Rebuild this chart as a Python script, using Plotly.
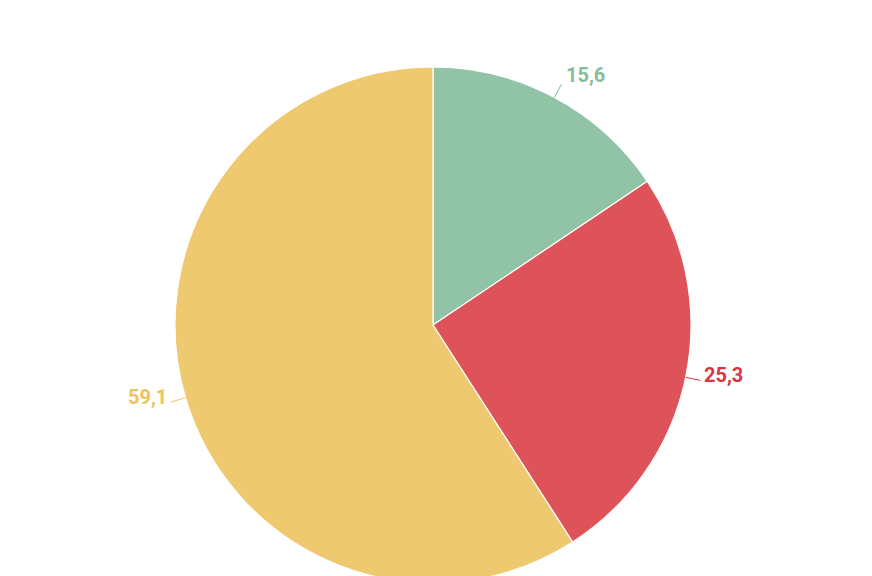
import math
import plotly.graph_objects as go

categories = ["A", "B", "C"]
values = [15.6, 25.3, 59.1]
value_labels = ["15,6", "25,3", "59,1"]
slice_colors = ["#91c3a6", "#dd5359", "#eec96f"]
text_colors = ["#86bd9c", "#d9343f", "#efc35c"]

W, H = 872, 576
M = dict(l=0, r=22, t=59, b=1)
plot_w = W - M["l"] - M["r"]
plot_h = H - M["t"] - M["b"]
radius_px = min(plot_w, plot_h) / 2
leader_px = 15

fig = go.Figure(
    go.Pie(
        labels=categories,
        values=values,
        textinfo="none",
        sort=False,
        direction="clockwise",
        rotation=0,
        marker=dict(colors=slice_colors, line=dict(color="white", width=1.2)),
        hoverinfo="label+value",
        showlegend=False,
        domain=dict(x=[0, 1], y=[0, 1]),
    )
)

# leader lines + labels placed at each slice's mid-angle
total = sum(values)
cum = 0.0
for val, lab, col in zip(values, value_labels, text_colors):
    mid = (cum + val / 2) / total * 2 * math.pi
    cum += val
    s, c = math.sin(mid), math.cos(mid)
    x0 = 0.5 + radius_px * s / plot_w
    y0 = 0.5 + radius_px * c / plot_h
    x1 = 0.5 + (radius_px + leader_px) * s / plot_w
    y1 = 0.5 + (radius_px + leader_px) * c / plot_h
    fig.add_shape(type="line", xref="paper", yref="paper",
                  x0=x0, y0=y0, x1=x1, y1=y1,
                  line=dict(color=col, width=1))
    right = s >= 0
    fig.add_annotation(
        x=x1, y=y1, xref="paper", yref="paper",
        text=lab, showarrow=False,
        xanchor="left" if right else "right", yanchor="middle",
        xshift=2 if right else -2, yshift=6 + 3 * c,
        font=dict(family="Roboto", size=20, color=col, weight="bold"),
    )

fig.update_layout(
    width=W,
    height=H,
    margin=M,
    paper_bgcolor="white",
    plot_bgcolor="white",
    font=dict(family="Roboto"),
)

fig.write_html("out.html")
